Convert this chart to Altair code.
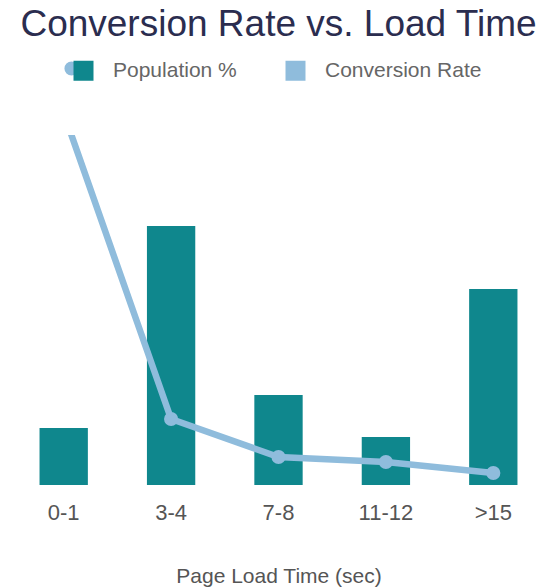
import altair as alt
import pandas as pd

# Page-load buckets and the two measured series
ranges = ["0-1", "3-4", "7-8", "11-12", ">15"]
population = [5.7, 25.9, 9.0, 4.8, 19.6]
conversion = [37.2, 6.6, 2.8, 2.3, 1.2]
series = ["Population %", "Conversion Rate"]

TEAL = "#0f878d"
BLUE = "#8fbcdc"
FONT = "Liberation Sans"

df = pd.DataFrame({
    "range": ranges,
    "population": population,
    "conversion": conversion,
    "pop_series": series[0],
    "conv_series": series[1],
})

x = alt.X(
    "range:N",
    sort=ranges,
    scale=alt.Scale(paddingInner=0.55, paddingOuter=0.275),
    axis=alt.Axis(
        title="Page Load Time (sec)",
        labelAngle=0,
        labelFont=FONT,
        labelFontSize=22,
        labelColor="#555555",
        labelPadding=17,
        ticks=False,
        tickSize=0,
        domain=False,
        grid=False,
        titleFont=FONT,
        titleFontSize=21,
        titleFontWeight="normal",
        titleColor="#555555",
        titlePadding=42,
    ),
)

y_scale = alt.Scale(domain=[0, 35])

bars = alt.Chart(df).mark_bar().encode(
    x=x,
    y=alt.Y("population:Q", scale=y_scale, axis=None),
    color=alt.Color(
        "pop_series:N",
        scale=alt.Scale(domain=series, range=[TEAL, BLUE]),
        legend=alt.Legend(
            title=None,
            orient="none",
            legendX=63,
            legendY=-75,
            direction="horizontal",
            symbolType="square",
            symbolSize=400,
            symbolStrokeWidth=0,
            labelFont=FONT,
            labelFontSize=21,
            labelColor="#666666",
            labelOffset=19,
            columnPadding=48,
            zindex=2,
        ),
    ),
)

line = alt.Chart(df).mark_line(clip=True, color=BLUE, strokeWidth=6.5).encode(
    x=x,
    y=alt.Y("conversion:Q", scale=y_scale, axis=None),
)

points = alt.Chart(df).mark_circle(clip=True, size=200, opacity=1).encode(
    x=x,
    y=alt.Y("conversion:Q", scale=y_scale, axis=None),
    fill=alt.Fill(
        "conv_series:N",
        scale=alt.Scale(domain=[series[1]], range=[BLUE]),
        legend=alt.Legend(
            title=None,
            orient="none",
            legendX=54,
            legendY=-74,
            symbolType="circle",
            symbolSize=200,
            symbolStrokeWidth=0,
            labelExpr="''",
            labelFontSize=1,
            zindex=1,
        ),
    ),
)

chart = (
    alt.layer(bars, line, points)
    .properties(
        width=537,
        height=350,
        padding={"left": 10, "top": 135, "right": 4, "bottom": 103},
        autosize=alt.AutoSizeParams(type="none"),
        title=alt.Title(
            "Conversion Rate vs. Load Time",
            font=FONT,
            fontSize=37,
            fontWeight="normal",
            color="#2b2d4f",
            anchor="middle",
            offset=16,
        ),
    )
    .configure_view(stroke=None)
)

chart.save("out.html", embed_options={"renderer": "svg", "actions": False})
